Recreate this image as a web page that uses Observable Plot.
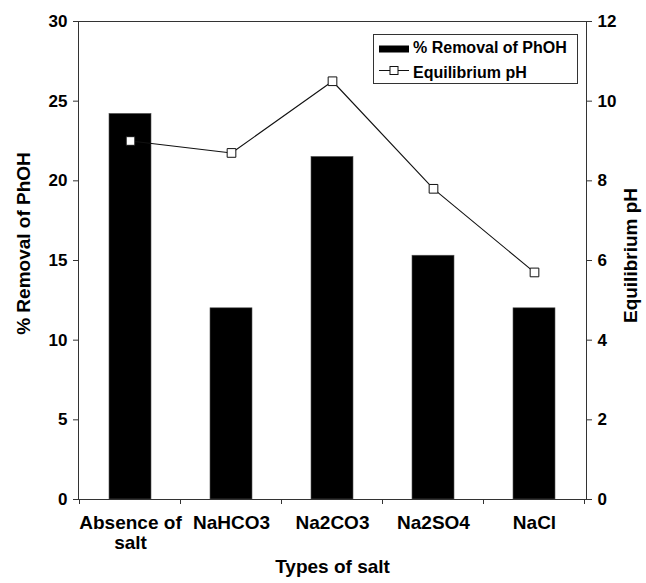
<!DOCTYPE html>
<html>
<head>
<meta charset="utf-8">
<script src="https://cdn.jsdelivr.net/npm/d3@7"></script>
<script src="https://cdn.jsdelivr.net/npm/@observablehq/plot@0.6"></script>
<style>
  html, body { margin: 0; padding: 0; background: #fff; }
  #wrap { position: relative; width: 646px; height: 583px; font-family: "Liberation Sans", Arial, sans-serif; }
  #legend { position: absolute; left: 373px; top: 34px; }
</style>
</head>
<body>
<div id="wrap"></div>
<script>
// ---- data ----
const salts = ["Absence of salt", "NaHCO3", "Na2CO3", "Na2SO4", "NaCl"];
const saltTickLabels = ["Absence of\nsalt", "NaHCO3", "Na2CO3", "Na2SO4", "NaCl"];
const removalPct = [24.2, 12.0, 21.5, 15.3, 12.0];
const equilibriumPH = [9.0, 8.7, 10.5, 7.8, 5.7];
const leftTicks = [0, 5, 10, 15, 20, 25, 30];
const rightTicks = [0, 2, 4, 6, 8, 10, 12];
const seriesNames = ["% Removal of PhOH", "Equilibrium pH"];

const leftMax = 30, rightMax = 12;
const k = leftMax / rightMax; // map pH onto the left scale

const data = salts.map((s, i) => ({salt: s, removal: removalPct[i], ph: equilibriumPH[i]}));
const labelOf = new Map(salts.map((s, i) => [s, saltTickLabels[i]]));

const font = "Liberation Sans, Arial, sans-serif";
const axisColor = "#333";

// tick marks at the band boundaries along the bottom axis
function boundaryTicks(index, scales, values, dims) {
  const x = scales.x;
  const step = x.step(), bw = x.bandwidth();
  const off = (step - bw) / 2;
  const xs = salts.map(s => x(s) - off);
  xs.push(x(salts[salts.length - 1]) + bw + off);
  const y0 = dims.height - dims.marginBottom;
  const g = d3.create("svg:g").attr("stroke", axisColor).attr("stroke-width", 1);
  for (const xv of xs) {
    g.append("line").attr("x1", xv).attr("x2", xv).attr("y1", y0).attr("y2", y0 + 5);
  }
  return g.node();
}

const chart = Plot.plot({
  width: 646,
  height: 583,
  marginLeft: 78,
  marginRight: 60,
  marginTop: 21,
  marginBottom: 84,
  style: {fontFamily: font, background: "white", color: "#000"},
  x: {domain: salts, paddingInner: 0.585, paddingOuter: 0.2925, label: null},
  y: {domain: [0, leftMax], label: null},
  marks: [
    Plot.barY(data, {x: "salt", y: "removal", fill: "black", stroke: "#555", strokeWidth: 0.6}),
    Plot.line(data, {x: "salt", y: d => d.ph * k, stroke: "#111", strokeWidth: 1.1}),
    Plot.dot(data, {x: "salt", y: d => d.ph * k, symbol: "square", r: 4.9, fill: "white", stroke: "#111", strokeWidth: 1}),
    Plot.frame({stroke: axisColor, strokeWidth: 1}),
    Plot.axisY({anchor: "left", ticks: leftTicks, tickSize: 5, tickPadding: 6, fontSize: 17, fontWeight: "bold", stroke: axisColor, label: null}),
    Plot.axisY({anchor: "right", ticks: rightTicks.map(v => v * k), tickFormat: d => String(Math.round(d / k)), tickSize: 5, tickPadding: 6, fontSize: 17, fontWeight: "bold", stroke: axisColor, label: null}),
    Plot.axisX({anchor: "bottom", tickSize: 0, tickPadding: 15, tickFormat: d => labelOf.get(d), fontSize: 19, fontWeight: "bold", lineHeight: 1.05, label: null}),
    boundaryTicks,
    Plot.text(["% Removal of PhOH"], {frameAnchor: "left", textAnchor: "middle", rotate: -90, dx: -55, dy: -17, fontSize: 19, fontWeight: "bold", fill: "#000"}),
    Plot.text(["Equilibrium pH"], {frameAnchor: "right", textAnchor: "middle", rotate: -90, dx: 44, dy: -5, fontSize: 19, fontWeight: "bold", fill: "#000"}),
    Plot.text(["Types of salt"], {frameAnchor: "bottom", dy: 73, fontSize: 19, fontWeight: "bold", fill: "#000"})
  ]
});

const wrap = document.getElementById("wrap");
wrap.appendChild(chart);

// legend (drawn as SVG overlay)
const L = d3.create("svg").attr("id", "legend").attr("width", 206).attr("height", 51)
  .style("font-family", font);
L.append("rect").attr("x", 0.5).attr("y", 0.5).attr("width", 204).attr("height", 49)
  .attr("fill", "white").attr("stroke", axisColor);
L.append("rect").attr("x", 6).attr("y", 11.5).attr("width", 30).attr("height", 7).attr("fill", "black");
L.append("text").attr("x", 40).attr("y", 19).attr("font-size", 16).attr("font-weight", "bold").text(seriesNames[0]);
L.append("line").attr("x1", 6).attr("x2", 36).attr("y1", 36.5).attr("y2", 36.5).attr("stroke", "#111");
L.append("rect").attr("x", 17).attr("y", 32.5).attr("width", 8).attr("height", 8).attr("fill", "white").attr("stroke", "#111");
L.append("text").attr("x", 40).attr("y", 43.5).attr("font-size", 16).attr("font-weight", "bold").text(seriesNames[1]);
wrap.appendChild(L.node());
</script>
</body>
</html>
